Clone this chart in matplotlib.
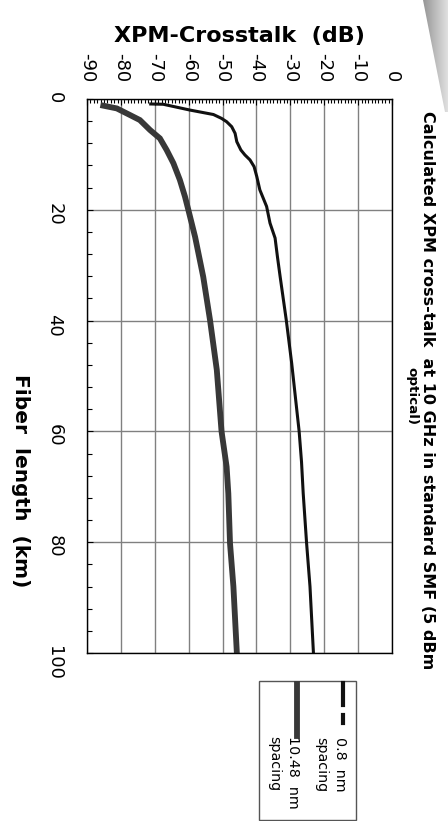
import numpy as np
import matplotlib
matplotlib.use("Agg")
import matplotlib.pyplot as plt
from matplotlib.ticker import MultipleLocator
from matplotlib.patches import Rectangle, Polygon
from matplotlib.lines import Line2D

# 0.8 nm spacing (thin black curve)
km_narrow = [0.9, 0.95, 2.0, 2.8, 3.5, 4.1, 5.0, 6.2, 7.7, 9.2, 10.1, 11.0, 12.2,
             14.0, 16.4, 17.9, 19.4, 22.4, 25.1, 28.5, 32.1, 39.9, 47.7, 56.1,
             60.0, 65.5, 71.2, 80.2, 88.0, 99.8]
db_narrow = [-71.2, -67.5, -59.6, -52.7, -50.3, -48.8, -47.3, -46.3, -45.8, -44.6,
             -43.4, -41.9, -40.7, -39.9, -39.0, -38.0, -37.0, -36.0, -34.5, -33.8,
             -33.0, -31.2, -29.6, -28.1, -27.4, -26.7, -26.2, -25.2, -24.2, -23.2]

# 10.48 nm spacing (thick grey curve)
km_wide = [1.2, 1.7, 2.9, 3.8, 5.6, 7.1, 9.2, 11.6, 14.6, 17.6, 20.0, 24.9, 32.1,
           39.9, 48.9, 60.0, 66.4, 71.2, 80.2, 88.0, 99.8]
db_wide = [-85.2, -81.2, -77.3, -74.4, -71.4, -68.5, -66.5, -64.5, -62.6, -61.1,
           -60.1, -58.1, -55.7, -53.7, -51.7, -50.3, -48.8, -48.3, -47.8, -46.8, -45.8]

db_ticks = list(range(-90, 1, 10))
km_ticks = list(range(0, 101, 20))
title_line1 = "Calculated XPM cross-talk  at 10 GHz in standard SMF (5 dBm"
title_line2 = "optical)"
legend_labels = ["0.8  nm\nspacing", "10.48  nm\nspacing"]

W, H = 448, 821


def fx(px):
    return px / W


def fy(py):
    return 1 - py / H


fig = plt.figure(figsize=(W / 100, H / 100), dpi=100)
ax = fig.add_axes([fx(87), fy(653), (392 - 87) / W, (653 - 99) / H])

ax.plot(db_narrow, km_narrow, color="#111111", lw=2.2, solid_joinstyle="miter")
ax.plot(db_wide, km_wide, color="#383838", lw=4.2, solid_joinstyle="miter")

ax.set_xlim(-90, 0)
ax.set_ylim(100, 0)
ax.set_xticks(db_ticks)
ax.set_xticklabels([str(t) for t in db_ticks], rotation=-90)
ax.set_yticks(km_ticks)
ax.set_yticklabels([str(t) for t in km_ticks], rotation=-90)
ax.xaxis.set_minor_locator(MultipleLocator(1))
ax.yaxis.set_minor_locator(MultipleLocator(4))

ax.tick_params(axis="x", which="both", top=True, bottom=False, labeltop=True,
               labelbottom=False, direction="in", labelsize=13, pad=12)
ax.tick_params(axis="x", which="minor", length=3, width=0.8)
ax.tick_params(axis="x", which="major", length=4, width=0.8)
ax.tick_params(axis="y", which="both", left=True, right=False, direction="in",
               labelsize=13, pad=17)
ax.tick_params(axis="y", which="minor", length=3.4, width=0.8)
ax.tick_params(axis="y", which="major", length=4, width=0.8)

ax.grid(True, which="major", color="#808080", lw=1.0)
ax.set_axisbelow(True)
for s in ax.spines.values():
    s.set_color("black")
    s.set_linewidth(1.0)

ax.xaxis.set_label_position("top")
ax.set_xlabel("XPM-Crosstalk  (dB)", fontsize=16, fontweight="bold", labelpad=8)

fig.text(fx(20), fy(481), "Fiber  length  (km)", rotation=-90, ha="center",
         va="center", fontsize=14.5, fontweight="bold")
fig.text(fx(427), fy(390), title_line1, rotation=-90, ha="center", va="center",
         fontsize=11.5, fontweight="bold")
fig.text(fx(412), fy(396), title_line2, rotation=-90, ha="center", va="center",
         fontsize=9.7, fontweight="bold")

# legend drawn by hand, rotated like the rest of the chart
fig.patches.append(Rectangle((fx(259), fy(820)), (356 - 259) / W, (820 - 681) / H,
                             transform=fig.transFigure, fill=False,
                             edgecolor="#555555", lw=1.0))
fig.lines.append(Line2D([fx(342.5), fx(342.5)], [fy(683), fy(705)],
                        transform=fig.transFigure, color="#111111", lw=3))
fig.lines.append(Line2D([fx(342.5), fx(342.5)], [fy(715), fy(723)],
                        transform=fig.transFigure, color="#111111", lw=3))
fig.lines.append(Line2D([fx(297), fx(297)], [fy(684), fy(736)],
                        transform=fig.transFigure, color="#383838", lw=4.2))
fig.text(fx(330.5), fy(737), legend_labels[0], rotation=-90, rotation_mode="anchor",
         ha="left", va="center", fontsize=10.3, linespacing=1.5)
fig.text(fx(283.5), fy(736), legend_labels[1], rotation=-90, rotation_mode="anchor",
         ha="left", va="center", fontsize=10.3, linespacing=1.5)

# grey page-curl wedge in the top right corner
wedge = fig.add_axes([fx(420), fy(112), 28 / W, 112 / H])
wedge.set_axis_off()
grad = np.linspace(0.55, 0.88, 64)[None, :].repeat(8, axis=0)
im = wedge.imshow(grad, cmap="gray", vmin=0, vmax=1, aspect="auto",
                  extent=[420, 448, 112, 0])
wedge.set_xlim(420, 448)
wedge.set_ylim(112, 0)
clip = Polygon([(423, 0), (448, 0), (448, 112), (445, 112)], closed=True,
               transform=wedge.transData)
im.set_clip_path(clip)

fig.savefig("out.png", dpi=100)
